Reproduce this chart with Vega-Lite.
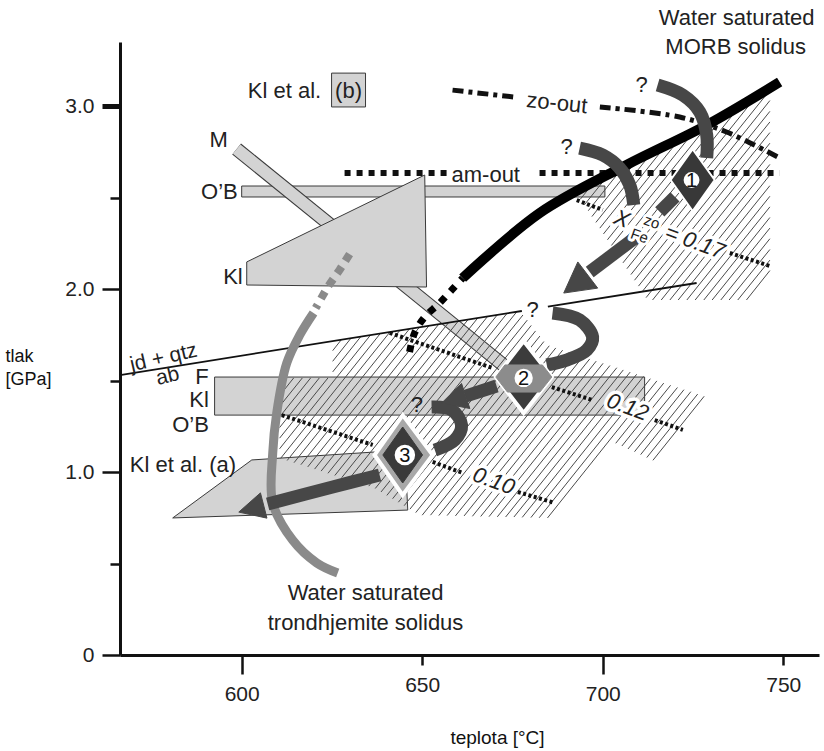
{
"$schema":"https://vega.github.io/schema/vega-lite/v6.json",
"width":699,"height":613,
"autosize":{"type":"none"},
"padding":{"left":120,"top":42,"right":5,"bottom":96},
"background":"white",
"config":{"font":"Liberation Sans","view":{"stroke":null}},
"datasets":{
"gray1":[
{"id":"OB","o":1,"T":600.0,"P":2.563},{"id":"OB","o":2,"T":700.6,"P":2.563},{"id":"OB","o":3,"T":700.6,"P":2.503},{"id":"OB","o":4,"T":600.0,"P":2.503},
{"id":"F","o":1,"T":592.5,"P":1.519},{"id":"F","o":2,"T":711.6,"P":1.519},{"id":"F","o":3,"T":711.6,"P":1.311},{"id":"F","o":4,"T":592.5,"P":1.311},
{"id":"Kla","o":1,"T":580.9,"P":0.749},{"id":"Kla","o":2,"T":602.8,"P":1.066},{"id":"Kla","o":3,"T":645.2,"P":1.120},{"id":"Kla","o":4,"T":646.0,"P":0.792},
{"id":"box","o":1,"T":624.9,"P":3.180},{"id":"box","o":2,"T":634.3,"P":3.180},{"id":"box","o":3,"T":634.3,"P":2.995},{"id":"box","o":4,"T":624.9,"P":2.995}
],
"gray2":[
{"id":"Kl","o":1,"T":601.4,"P":2.148},{"id":"Kl","o":2,"T":650.7,"P":2.623},{"id":"Kl","o":3,"T":651.2,"P":2.011},{"id":"Kl","o":4,"T":601.4,"P":2.022}
],
"mbar":[{"o":1,"T":598.6,"P":2.765},{"o":2,"T":674.2,"P":1.557}],
"hatch":[
{"T":693.8,"P":2.491,"T2":696.5,"P2":2.557},{"T":694.9,"P":2.460,"T2":701.1,"P2":2.612},{"T":696.0,"P":2.428,"T2":705.7,"P2":2.668},{"T":697.0,"P":2.396,"T2":709.6,"P2":2.707},{"T":698.1,"P":2.364,"T2":713.6,"P2":2.746},{"T":699.2,"P":2.333,"T2":717.5,"P2":2.785},{"T":700.2,"P":2.301,"T2":721.4,"P2":2.823},{"T":701.3,"P":2.269,"T2":725.3,"P2":2.862},{"T":702.4,"P":2.238,"T2":729.4,"P2":2.904},{"T":703.5,"P":2.206,"T2":733.9,"P2":2.956},
{"T":704.5,"P":2.174,"T2":738.3,"P2":3.008},{"T":705.6,"P":2.143,"T2":742.8,"P2":3.060},{"T":706.7,"P":2.111,"T2":746.3,"P2":3.087},{"T":707.8,"P":2.079,"T2":746.3,"P2":3.030},{"T":708.8,"P":2.048,"T2":746.3,"P2":2.971},{"T":709.9,"P":2.016,"T2":746.3,"P2":2.913},{"T":710.9,"P":1.985,"T2":746.3,"P2":2.855},{"T":712.0,"P":1.953,"T2":746.3,"P2":2.797},{"T":713.8,"P":1.940,"T2":746.3,"P2":2.739},{"T":716.2,"P":1.940,"T2":746.3,"P2":2.681},
{"T":718.6,"P":1.940,"T2":746.3,"P2":2.623},{"T":720.9,"P":1.940,"T2":746.3,"P2":2.565},{"T":723.3,"P":1.940,"T2":746.3,"P2":2.507},{"T":725.6,"P":1.940,"T2":746.3,"P2":2.449},{"T":728.0,"P":1.940,"T2":746.3,"P2":2.391},{"T":730.3,"P":1.940,"T2":746.3,"P2":2.333},{"T":732.7,"P":1.940,"T2":746.3,"P2":2.275},{"T":735.0,"P":1.940,"T2":746.3,"P2":2.216},{"T":737.4,"P":1.940,"T2":746.3,"P2":2.158},{"T":739.8,"P":1.940,"T2":746.3,"P2":2.101},
{"T":610.5,"P":1.475,"T2":612.1,"P2":1.514},{"T":610.5,"P":1.417,"T2":614.4,"P2":1.514},{"T":610.5,"P":1.359,"T2":616.8,"P2":1.514},{"T":610.5,"P":1.301,"T2":619.1,"P2":1.514},{"T":625.2,"P":1.663,"T2":627.6,"P2":1.723},{"T":610.5,"P":1.243,"T2":621.5,"P2":1.514},{"T":625.2,"P":1.605,"T2":630.3,"P2":1.732},{"T":610.5,"P":1.185,"T2":623.9,"P2":1.514},{"T":625.2,"P":1.547,"T2":633.0,"P2":1.740},
{"T":610.5,"P":1.127,"T2":635.7,"P2":1.749},{"T":610.8,"P":1.075,"T2":638.4,"P2":1.757},{"T":612.6,"P":1.063,"T2":641.1,"P2":1.766},{"T":614.5,"P":1.051,"T2":643.8,"P2":1.774},{"T":616.4,"P":1.040,"T2":646.5,"P2":1.783},{"T":618.3,"P":1.028,"T2":649.2,"P2":1.791},{"T":620.2,"P":1.016,"T2":651.9,"P2":1.800},{"T":622.0,"P":1.005,"T2":654.6,"P2":1.808},{"T":623.9,"P":0.993,"T2":657.3,"P2":1.816},{"T":625.8,"P":0.981,"T2":660.0,"P2":1.825},
{"T":627.7,"P":0.969,"T2":662.7,"P2":1.833},{"T":629.6,"P":0.958,"T2":665.4,"P2":1.842},{"T":631.4,"P":0.946,"T2":668.1,"P2":1.850},{"T":633.3,"P":0.934,"T2":670.8,"P2":1.859},{"T":635.2,"P":0.923,"T2":673.5,"P2":1.867},{"T":637.0,"P":0.910,"T2":676.2,"P2":1.876},{"T":638.6,"P":0.891,"T2":677.9,"P2":1.858},{"T":640.2,"P":0.872,"T2":679.1,"P2":1.830},{"T":641.8,"P":0.854,"T2":680.2,"P2":1.801},{"T":643.4,"P":0.835,"T2":681.4,"P2":1.771},
{"T":645.0,"P":0.816,"T2":682.6,"P2":1.743},{"T":646.6,"P":0.797,"T2":683.7,"P2":1.713},{"T":648.2,"P":0.778,"T2":685.2,"P2":1.690},{"T":650.0,"P":0.764,"T2":687.0,"P2":1.678},{"T":652.3,"P":0.764,"T2":688.9,"P2":1.666},{"T":654.6,"P":0.762,"T2":690.7,"P2":1.654},{"T":656.9,"P":0.762,"T2":692.6,"P2":1.642},{"T":659.2,"P":0.760,"T2":694.5,"P2":1.630},{"T":661.6,"P":0.760,"T2":696.4,"P2":1.618},{"T":663.9,"P":0.758,"T2":698.2,"P2":1.606},
{"T":666.2,"P":0.757,"T2":700.1,"P2":1.594},{"T":668.5,"P":0.756,"T2":702.0,"P2":1.582},{"T":670.8,"P":0.755,"T2":703.9,"P2":1.570},{"T":673.1,"P":0.754,"T2":705.7,"P2":1.558},{"T":675.4,"P":0.754,"T2":707.6,"P2":1.546},{"T":677.7,"P":0.752,"T2":709.4,"P2":1.534},{"T":680.1,"P":0.751,"T2":711.3,"P2":1.522},{"T":682.4,"P":0.750,"T2":713.2,"P2":1.510},{"T":684.7,"P":0.749,"T2":715.0,"P2":1.498},
{"T":703.6,"P":1.157,"T2":716.9,"P2":1.486},{"T":705.3,"P":1.142,"T2":718.8,"P2":1.474},{"T":707.0,"P":1.126,"T2":720.7,"P2":1.462},{"T":708.8,"P":1.111,"T2":722.5,"P2":1.450},{"T":710.5,"P":1.095,"T2":724.4,"P2":1.439},{"T":712.2,"P":1.079,"T2":726.3,"P2":1.426},{"T":713.9,"P":1.064,"T2":728.1,"P2":1.414}
],
"iso":[
{"id":"a","o":1,"T":692.8,"P":2.486},{"id":"a","o":2,"T":700.0,"P":2.432},
{"id":"b","o":1,"T":735.2,"P":2.197},{"id":"b","o":2,"T":746.3,"P":2.126},
{"id":"c","o":1,"T":641.0,"P":1.760},{"id":"c","o":2,"T":669.5,"P":1.568},
{"id":"d","o":1,"T":685.9,"P":1.464},{"id":"d","o":2,"T":697.2,"P":1.393},
{"id":"e","o":1,"T":714.4,"P":1.284},{"id":"e","o":2,"T":722.2,"P":1.230},
{"id":"f","o":1,"T":611.1,"P":1.311},{"id":"f","o":2,"T":636.3,"P":1.148},
{"id":"g","o":1,"T":652.9,"P":1.055},{"id":"g","o":2,"T":661.2,"P":0.995},
{"id":"h","o":1,"T":676.5,"P":0.891},{"id":"h","o":2,"T":686.7,"P":0.831}
],
"amout":[
{"id":"a","o":1,"T":628.5,"P":2.634},{"id":"a","o":2,"T":657.1,"P":2.634},
{"id":"b","o":1,"T":682.5,"P":2.634},{"id":"b","o":2,"T":749.0,"P":2.634}
],
"zoout":[
{"id":"a","o":1,"T":658.4,"P":3.087},{"id":"a","o":2,"T":675.6,"P":3.049},
{"id":"b","o":1,"T":699.2,"P":2.995},{"id":"b","o":2,"T":721.3,"P":2.940},{"id":"b","o":3,"T":734.3,"P":2.858},{"id":"b","o":4,"T":749.0,"P":2.716}
],
"jd":[
{"id":"a","o":1,"T":566.3,"P":1.530},{"id":"a","o":2,"T":677.6,"P":1.880},
{"id":"b","o":1,"T":684.8,"P":1.904},{"id":"b","o":2,"T":726.0,"P":2.033}
],
"trd":[{"o":1,"T":629.9,"P":2.191},{"o":2,"T":627.1,"P":2.104},{"o":3,"T":623.8,"P":2.011},{"o":4,"T":620.5,"P":1.896}],
"trs":[{"o":1,"T":619.9,"P":1.869},{"o":2,"T":616.1,"P":1.749},{"o":3,"T":612.5,"P":1.596},{"o":4,"T":609.7,"P":1.322},{"o":5,"T":608.6,"P":1.104},{"o":6,"T":608.6,"P":0.831},{"o":7,"T":614.1,"P":0.628},{"o":8,"T":620.8,"P":0.503},{"o":9,"T":626.6,"P":0.448}],
"morbd":[{"o":1,"T":646.5,"P":1.656},{"o":2,"T":647.9,"P":1.760},{"o":3,"T":650.7,"P":1.847},{"o":4,"T":654.8,"P":1.923},{"o":5,"T":658.2,"P":1.995},{"o":6,"T":661.2,"P":2.060}],
"morbs":[{"o":1,"T":661.2,"P":2.060},{"o":2,"T":682.5,"P":2.415},{"o":3,"T":706.6,"P":2.678},{"o":4,"T":728.8,"P":2.896},{"o":5,"T":749.0,"P":3.131}],
"arr":[
{"id":"arc1","o":1,"T":715.2,"P":3.115},{"id":"arc1","o":2,"T":722.2,"P":3.060},{"id":"arc1","o":3,"T":726.9,"P":2.967},{"id":"arc1","o":4,"T":728.8,"P":2.842},{"id":"arc1","o":5,"T":728.8,"P":2.716},
{"id":"arc2","o":1,"T":693.6,"P":2.770},{"id":"arc2","o":2,"T":700.0,"P":2.732},{"id":"arc2","o":3,"T":704.7,"P":2.661},{"id":"arc2","o":4,"T":707.5,"P":2.568},{"id":"arc2","o":5,"T":708.6,"P":2.459},
{"id":"seg1","o":1,"T":720.0,"P":2.503},{"id":"seg1","o":2,"T":715.8,"P":2.421},
{"id":"body1","o":1,"T":708.9,"P":2.279},{"id":"body1","o":2,"T":696.4,"P":2.093},
{"id":"S","o":1,"T":686.1,"P":1.869},{"id":"S","o":2,"T":693.6,"P":1.831},{"id":"S","o":3,"T":697.2,"P":1.738},{"id":"S","o":4,"T":695.6,"P":1.667},{"id":"S","o":5,"T":690.0,"P":1.612},{"id":"S","o":6,"T":684.5,"P":1.585},
{"id":"body2","o":1,"T":670.6,"P":1.470},{"id":"body2","o":2,"T":662.0,"P":1.415},
{"id":"C","o":1,"T":652.6,"P":1.355},{"id":"C","o":2,"T":658.2,"P":1.339},{"id":"C","o":3,"T":660.9,"P":1.257},{"id":"C","o":4,"T":659.0,"P":1.175},{"id":"C","o":5,"T":653.5,"P":1.120},
{"id":"body3","o":1,"T":638.2,"P":0.984},{"id":"body3","o":2,"T":625.2,"P":0.918},{"id":"body3","o":3,"T":607.2,"P":0.825}
],
"heads":[
{"id":"h1","o":1,"T":689.2,"P":1.978},{"id":"h1","o":2,"T":693.1,"P":2.148},{"id":"h1","o":3,"T":698.6,"P":2.005},
{"id":"h2","o":1,"T":655.4,"P":1.377},{"id":"h2","o":2,"T":660.9,"P":1.484},{"id":"h2","o":3,"T":663.2,"P":1.347},
{"id":"h3","o":1,"T":599.2,"P":0.781},{"id":"h3","o":2,"T":605.2,"P":0.886},{"id":"h3","o":3,"T":607.0,"P":0.748}
],
"d1":[{"o":1,"T":724.9,"P":2.765},{"o":2,"T":731.0,"P":2.596},{"o":3,"T":724.9,"P":2.426},{"o":4,"T":718.8,"P":2.596}],
"d2":[{"o":1,"T":678.1,"P":1.716},{"o":2,"T":685.9,"P":1.519},{"o":3,"T":678.1,"P":1.322},{"o":4,"T":670.4,"P":1.519}],
"d3":[{"o":1,"T":644.6,"P":1.311},{"o":2,"T":652.9,"P":1.093},{"o":3,"T":644.6,"P":0.874},{"o":4,"T":636.8,"P":1.093}],
"d2b":[{"o":1,"T":672.9,"P":1.585},{"o":2,"T":683.3,"P":1.585},{"o":3,"T":685.9,"P":1.519},{"o":4,"T":682.6,"P":1.437},{"o":5,"T":673.6,"P":1.437},{"o":6,"T":670.4,"P":1.519}],
"d3i":[{"o":1,"T":644.6,"P":1.246},{"o":2,"T":650.1,"P":1.093},{"o":3,"T":644.6,"P":0.940},{"o":4,"T":639.1,"P":1.093}],
"circ":[{"id":"1","T":724.6,"P":2.596},{"id":"2","T":678.1,"P":1.514},{"id":"3","T":645.2,"P":1.093}],
"txtc":[
{"t":"Water saturated","T":737.1,"P":3.481},{"t":"MORB solidus","T":736.8,"P":3.322},
{"t":"Water saturated","T":634.3,"P":0.339},{"t":"trondhjemite solidus","T":634.3,"P":0.175},
{"t":"M","T":593.6,"P":2.814},{"t":"am-out","T":667.6,"P":2.623},{"t":"(b)","T":629.6,"P":3.082},
{"t":"?","T":710.8,"P":3.115},{"t":"?","T":690.0,"P":2.776},{"t":"?","T":680.6,"P":1.885},{"t":"?","T":648.5,"P":1.366}
],
"txtr":[
{"t":"O’B","T":598.9,"P":2.530},{"t":"Kl","T":600.3,"P":2.066},{"t":"F","T":590.9,"P":1.519},{"t":"Kl","T":590.9,"P":1.393},{"t":"O’B","T":590.9,"P":1.257}
],
"txtl":[{"t":"Kl et al. (a)","T":569.0,"P":1.038},{"t":"Kl et al.","T":601.7,"P":3.082}],
"iso_lab":[{"t":"0.12","T":706.9,"P":1.355},{"t":"0.10","T":669.8,"P":0.951},{"t":"= 0.17","T":725.5,"P":2.257},{"t":"X","T":705.3,"P":2.383}],
"iso_small":[{"t":"Fe","T":710.2,"P":2.290},{"t":"zo","T":713.6,"P":2.366}]
},
"encoding":{
"x":{"field":"T","type":"quantitative","scale":{"domain":[566.3,759.9],"nice":false,"zero":false},
"axis":{"title":"teplota  [°C]","values":[600,650,700,750],"grid":false,"domainColor":"#111","domainWidth":3,"tickColor":"#111","tickWidth":2.5,
"tickSize":{"condition":{"test":"datum.value % 100 === 0","value":19},"value":10},
"labelFont":"Liberation Sans","labelFontSize":21,"labelColor":"#222","labelPadding":9,"labelFlush":false,"labelOverlap":false,
"titleFont":"Liberation Sans","titleFontSize":19,"titleFontWeight":"normal","titleColor":"#111","titleX":377,"titleY":82,"titleAlign":"center","titleBaseline":"middle"}},
"y":{"field":"P","type":"quantitative","scale":{"domain":[0,3.35],"nice":false,"zero":false},
"axis":{"title":["tlak","[GPa]"],"values":[0,0.5,1,1.5,2,2.5,3],"grid":false,"domainColor":"#111","domainWidth":3,"tickColor":"#111",
"tickWidth":{"condition":{"test":"datum.value === 3","value":5},"value":2.5},
"tickSize":{"condition":{"test":"datum.value % 1 === 0","value":18},"value":10},
"labelExpr":"datum.value == 0 ? '0' : (datum.value % 1 === 0 ? format(datum.value, '.1f') : '')",
"labelFont":"Liberation Sans","labelFontSize":21,"labelColor":"#222","labelPadding":8,"labelFlush":false,"labelOverlap":false,
"titleFont":"Liberation Sans","titleFontSize":18,"titleFontWeight":"normal","titleColor":"#111","titleAngle":0,"titleAlign":"left","titleBaseline":"top","titleX":-115,"titleY":305,"titleLineHeight":23}}
},
"layer":[
{"data":{"name":"gray1"},"mark":{"type":"line","interpolate":"linear-closed","fill":"#d3d3d3","stroke":"#3a3a3a","strokeWidth":1},"encoding":{"detail":{"field":"id"},"order":{"field":"o"}}},
{"data":{"name":"mbar"},"mark":{"type":"line","stroke":"#3a3a3a","strokeWidth":14,"strokeCap":"butt"},"encoding":{"order":{"field":"o"}}},
{"data":{"name":"mbar"},"mark":{"type":"line","stroke":"#d3d3d3","strokeWidth":12,"strokeCap":"butt"},"encoding":{"order":{"field":"o"}}},
{"data":{"name":"gray2"},"mark":{"type":"line","interpolate":"linear-closed","fill":"#d3d3d3","stroke":"#3a3a3a","strokeWidth":1},"encoding":{"detail":{"field":"id"},"order":{"field":"o"}}},
{"data":{"name":"hatch"},"mark":{"type":"rule","stroke":"#4a4a4a","strokeWidth":1},"encoding":{"x2":{"field":"T2"},"y2":{"field":"P2"}}},
{"data":{"name":"iso"},"mark":{"type":"line","stroke":"#111","strokeWidth":4,"strokeDash":[3,2.5]},"encoding":{"detail":{"field":"id"},"order":{"field":"o"}}},
{"data":{"name":"amout"},"mark":{"type":"line","stroke":"#111","strokeWidth":6,"strokeDash":[6,6]},"encoding":{"detail":{"field":"id"},"order":{"field":"o"}}},
{"data":{"name":"zoout"},"mark":{"type":"line","stroke":"#111","strokeWidth":5,"strokeDash":[11,5,4,5],"interpolate":"catmull-rom"},"encoding":{"detail":{"field":"id"},"order":{"field":"o"}}},
{"data":{"name":"jd"},"mark":{"type":"line","stroke":"#111","strokeWidth":1.8},"encoding":{"detail":{"field":"id"},"order":{"field":"o"}}},
{"data":{"name":"trd"},"mark":{"type":"line","stroke":"#8a8a8a","strokeWidth":8,"strokeDash":[8,7]},"encoding":{"order":{"field":"o"}}},
{"data":{"name":"trs"},"mark":{"type":"line","stroke":"#8a8a8a","strokeWidth":9,"strokeCap":"butt","interpolate":"catmull-rom"},"encoding":{"order":{"field":"o"}}},
{"data":{"name":"morbd"},"mark":{"type":"line","stroke":"#000","strokeWidth":7,"strokeDash":[7,8],"interpolate":"catmull-rom"},"encoding":{"order":{"field":"o"}}},
{"data":{"name":"morbs"},"mark":{"type":"line","stroke":"#000","strokeWidth":10,"strokeCap":"butt","interpolate":"catmull-rom"},"encoding":{"order":{"field":"o"}}},
{"data":{"name":"arr"},"mark":{"type":"line","stroke":"#474747","strokeWidth":13,"strokeCap":"butt","interpolate":"catmull-rom"},"encoding":{"detail":{"field":"id"},"order":{"field":"o"}}},
{"data":{"name":"heads"},"mark":{"type":"line","interpolate":"linear-closed","fill":"#474747","stroke":"#474747","strokeWidth":1},"encoding":{"detail":{"field":"id"},"order":{"field":"o"}}},
{"data":{"name":"d1"},"mark":{"type":"line","interpolate":"linear-closed","fill":"#383838","stroke":"white","strokeWidth":2},"encoding":{"order":{"field":"o"}}},
{"data":{"name":"d2"},"mark":{"type":"line","interpolate":"linear-closed","fill":"#3c3c3c","stroke":"white","strokeWidth":4},"encoding":{"order":{"field":"o"}}},
{"data":{"name":"d3"},"mark":{"type":"line","interpolate":"linear-closed","fill":"#a8a8a8","stroke":"white","strokeWidth":4},"encoding":{"order":{"field":"o"}}},
{"data":{"name":"d2b"},"mark":{"type":"line","interpolate":"linear-closed","fill":"#8c8c8c","stroke":"#8c8c8c","strokeWidth":1},"encoding":{"order":{"field":"o"}}},
{"data":{"name":"d3i"},"mark":{"type":"line","interpolate":"linear-closed","fill":"#3a3a3a","stroke":"#3a3a3a","strokeWidth":1},"encoding":{"order":{"field":"o"}}},
{"data":{"name":"circ"},"mark":{"type":"point","shape":"circle","filled":true,"fill":"white","opacity":1,"strokeWidth":0},"encoding":{"size":{"field":"id","type":"ordinal","scale":{"domain":["1","2","3"],"range":[250,420,330]},"legend":null}}},
{"data":{"name":"circ"},"mark":{"type":"text","fontSize":20,"fill":"#111","align":"center","baseline":"middle","dy":1},"encoding":{"text":{"field":"id"}}},
{"data":{"name":"txtc"},"mark":{"type":"text","fontSize":22,"fill":"#222","align":"center","baseline":"middle"},"encoding":{"text":{"field":"t"}}},
{"data":{"name":"txtr"},"mark":{"type":"text","fontSize":22,"fill":"#222","align":"right","baseline":"middle"},"encoding":{"text":{"field":"t"}}},
{"data":{"name":"txtl"},"mark":{"type":"text","fontSize":22,"fill":"#222","align":"left","baseline":"middle"},"encoding":{"text":{"field":"t"}}},
{"data":{"values":[{"t":"zo-out","T":687.3,"P":3.016}]},"mark":{"type":"text","fontSize":22,"fill":"#222","align":"center","baseline":"middle","angle":6},"encoding":{"text":{"field":"t"}}},
{"data":{"values":[{"t":"jd + qtz","T":578.4,"P":1.623},{"t":"ab","T":579.5,"P":1.522}]},"mark":{"type":"text","fontSize":21,"fill":"#222","align":"center","baseline":"middle","angle":-13},"encoding":{"text":{"field":"t"}}},
{"data":{"name":"iso_lab"},"mark":{"type":"text","fontSize":22,"fontStyle":"italic","fill":"white","stroke":"white","strokeWidth":7,"strokeJoin":"round","align":"center","baseline":"middle","angle":20},"encoding":{"text":{"field":"t"}}},
{"data":{"name":"iso_small"},"mark":{"type":"text","fontSize":15,"fill":"white","stroke":"white","strokeWidth":6,"strokeJoin":"round","align":"center","baseline":"middle","angle":20},"encoding":{"text":{"field":"t"}}},
{"data":{"name":"iso_lab"},"mark":{"type":"text","fontSize":22,"fontStyle":"italic","fill":"#222","align":"center","baseline":"middle","angle":20},"encoding":{"text":{"field":"t"}}},
{"data":{"name":"iso_small"},"mark":{"type":"text","fontSize":15,"fill":"#222","align":"center","baseline":"middle","angle":20},"encoding":{"text":{"field":"t"}}}
]
}
